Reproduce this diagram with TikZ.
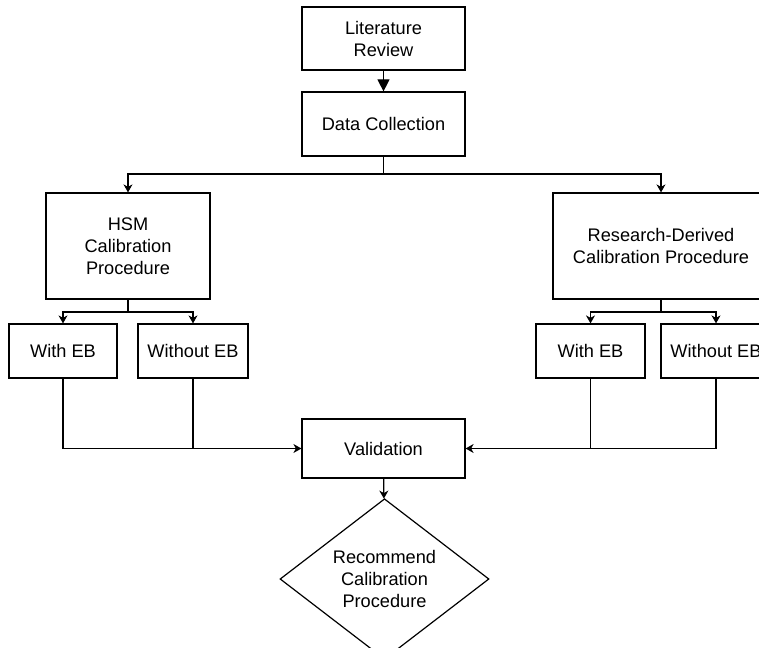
\documentclass[tikz,border=0pt]{standalone}
\usepackage{fontspec}
\setmainfont{Liberation Sans}
\usetikzlibrary{arrows.meta,shapes.geometric}
\begin{document}
\begin{tikzpicture}[x=1pt,y=-1pt,
  line width=1.2pt,
  font=\fontsize{18.2}{22}\selectfont,
  box/.style={draw,rectangle,inner sep=0pt,align=center},
  arr/.style={-{Stealth[length=8pt,width=9pt,inset=2.5pt]}},
  tri/.style={-{Triangle[length=12pt,width=12pt]}}]
\clip (0,0) rectangle (759,647);
\node[box,minimum width=163,minimum height=63] (LR) at (383.5,38.5) {Literature\\Review};
\node[box,minimum width=163,minimum height=64] (DC) at (383.5,124) {Data Collection};
\node[box,minimum width=164,minimum height=106] (HSM) at (128,246) {HSM\\Calibration\\Procedure};
\node[box,minimum width=216,minimum height=106] (RD) at (661,246) {Research-Derived\\Calibration Procedure};
\node[box,minimum width=108,minimum height=54] (LW) at (63,351) {With EB};
\node[box,minimum width=110,minimum height=54] (LWo) at (193,351) {Without EB};
\node[box,minimum width=109,minimum height=54] (RW) at (590.5,351) {With EB};
\node[box,minimum width=110,minimum height=54] (RWo) at (716,351) {Without EB};
\node[box,minimum width=163,minimum height=59] (Val) at (383.5,448.5) {Validation};
\node[draw,diamond,inner sep=0pt,minimum width=209,minimum height=135,align=center] (Rec) at (384.5,579) {Recommend\\Calibration\\Procedure};
\coordinate (j1) at (383.5,174);
\coordinate (j2) at (128,312);
\coordinate (j3) at (661,312);
\draw[tri] (LR) -- (DC);
\draw (DC.south) -- (j1);
\draw[arr] (j1) -| (HSM.north);
\draw[arr] (j1) -| (RD.north);
\draw (HSM.south) -- (j2);
\draw[arr] (j2) -| (LW.north);
\draw[arr] (j2) -| (LWo.north);
\draw (RD.south) -- (j3);
\draw[arr] (j3) -| (RW.north);
\draw[arr] (j3) -| (RWo.north);
\draw[arr] (LW.south) |- (Val.west);
\draw (LWo.south) -- (LWo.south |- Val.west);
\draw[arr] (RWo.south) |- (Val.east);
\draw (RW.south) -- (RW.south |- Val.east);
\draw[arr] (Val) -- (Rec);
\end{tikzpicture}
\end{document}
